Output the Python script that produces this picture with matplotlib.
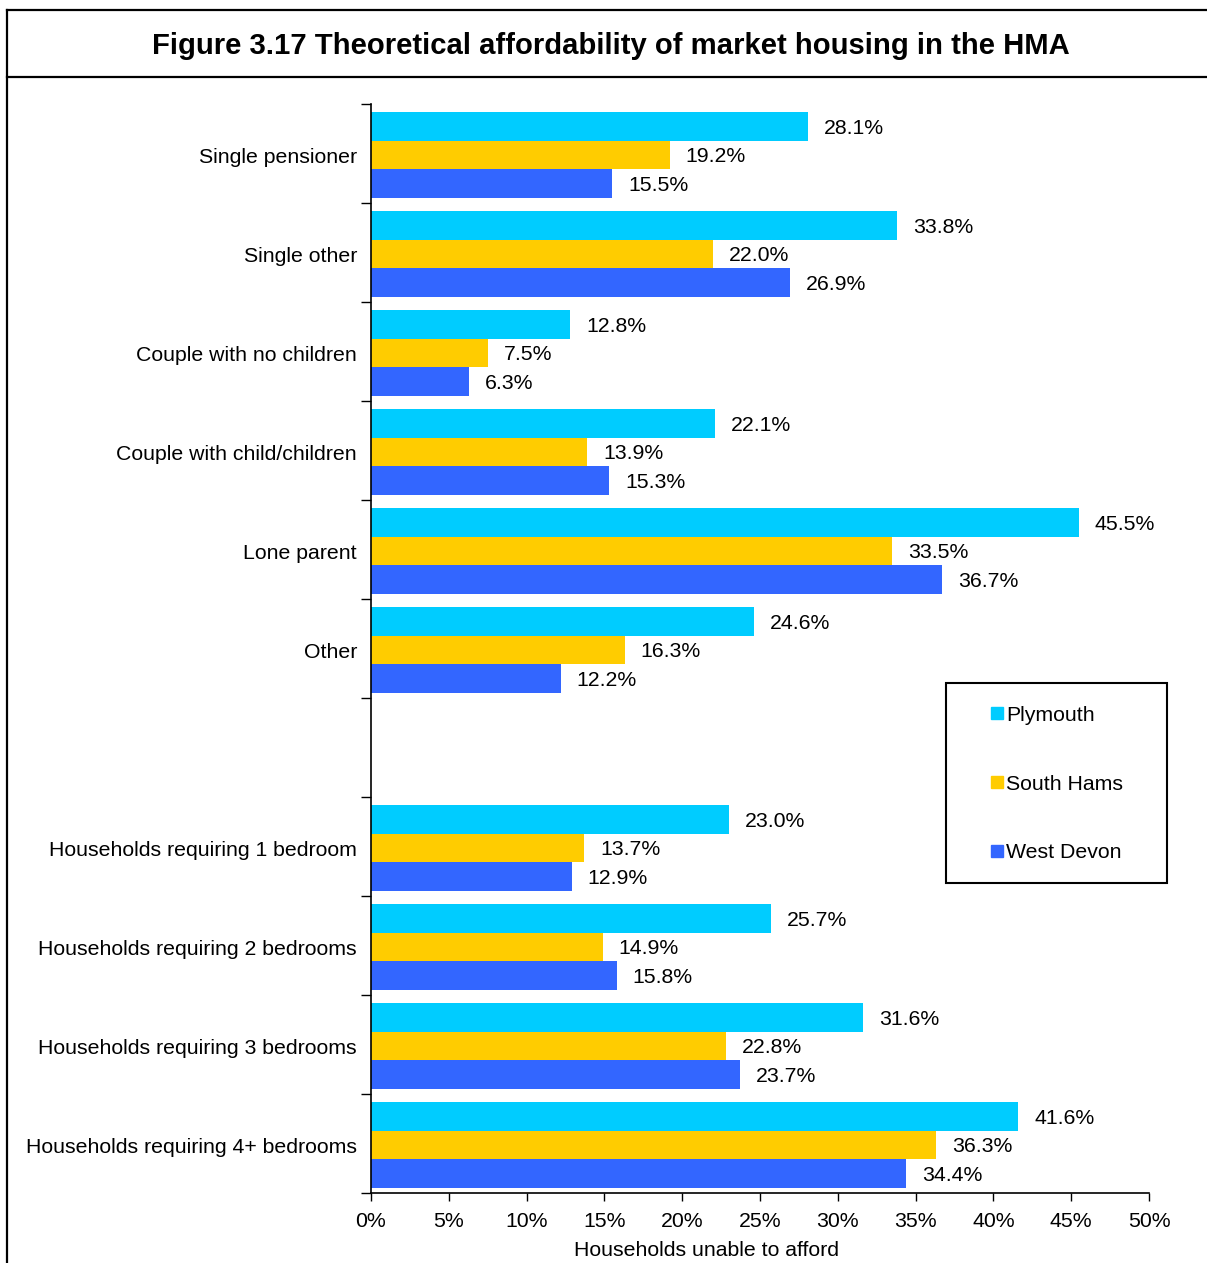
import matplotlib.pyplot as plt
import numpy as np
from matplotlib.patches import Rectangle, Patch
from matplotlib.lines import Line2D

plt.rcParams['font.family'] = ['Liberation Sans', 'DejaVu Sans']

categories = ['Single pensioner', 'Single other', 'Couple with no children',
              'Couple with child/children', 'Lone parent', 'Other', '',
              'Households requiring 1 bedroom', 'Households requiring 2 bedrooms',
              'Households requiring 3 bedrooms', 'Households requiring 4+ bedrooms']
plymouth = [28.1, 33.8, 12.8, 22.1, 45.5, 24.6, None, 23.0, 25.7, 31.6, 41.6]
south_hams = [19.2, 22.0, 7.5, 13.9, 33.5, 16.3, None, 13.7, 14.9, 22.8, 36.3]
west_devon = [15.5, 26.9, 6.3, 15.3, 36.7, 12.2, None, 12.9, 15.8, 23.7, 34.4]
series = [('Plymouth', plymouth, '#00CCFF'),
          ('South Hams', south_hams, '#FFCC00'),
          ('West Devon', west_devon, '#3366FF')]

fig = plt.figure(figsize=(12.07, 12.63), dpi=100)
ax = fig.add_axes([371/1207, 1 - 1193/1263, 778/1207, 1089/1263])

h = 0.29
fs = 15.3
for k, (name, vals, col) in enumerate(series):
    for i, v in enumerate(vals):
        if v is None:
            continue
        y = i + (k - 1) * h + 0.015
        ax.barh(y, v, height=h, color=col)
        ax.annotate(f'{v:.1f}%', (v, y), xytext=(16, -2), textcoords='offset pixels',
                    va='center', ha='left', fontsize=fs)

ax.set_xlim(0, 50)
ax.set_ylim(10.5, -0.5)
ax.set_xticks(np.arange(0, 51, 5))
ax.set_xticklabels([f'{t}%' for t in range(0, 51, 5)], fontsize=fs)
ax.set_yticks(np.arange(-0.5, 11, 1))
ax.set_yticklabels([])
ax.set_yticks(np.arange(len(categories)) + 0.02, minor=True)
ax.set_yticklabels(categories, minor=True, fontsize=fs)
ax.tick_params(axis='y', which='major', direction='out', length=7, width=1)
ax.tick_params(axis='y', which='minor', length=0, pad=10)
ax.tick_params(axis='x', direction='out', length=6, width=1, pad=8)
for s in ['top', 'right']:
    ax.spines[s].set_visible(False)
for s in ['left', 'bottom']:
    ax.spines[s].set_linewidth(1.2)

fig.text(706/1207, 1 - 1251/1263, 'Households unable to afford', ha='center', va='center',
         fontsize=fs)

# legend box
fig.patches.append(Rectangle((946/1207, 1 - 883/1263), 221/1207, 200/1263,
                             transform=fig.transFigure, fill=False, lw=1.5, ec='black'))
handles = [Patch(color=c, label=n) for n, _, c in series]
fig.legend(handles=handles, loc='center', bbox_to_anchor=(1057/1207, 1 - 784/1263),
           frameon=False, fontsize=fs, handlelength=0.55, handleheight=0.55,
           handletextpad=0.15, labelspacing=2.35)

# title box and outer frame
fig.add_artist(Line2D([7/1207, 7/1207], [0, 1 - 10/1263], transform=fig.transFigure,
                      color='black', lw=1.6))
fig.add_artist(Line2D([7/1207, 1], [1 - 10/1263, 1 - 10/1263], transform=fig.transFigure,
                      color='black', lw=1.6))
fig.add_artist(Line2D([7/1207, 1], [1 - 77/1263, 1 - 77/1263], transform=fig.transFigure,
                      color='black', lw=1.6))
fig.text(611/1207, 1 - 46/1263, 'Figure 3.17 Theoretical affordability of market housing in the HMA',
         ha='center', va='center', fontsize=21.1, fontweight='bold')

fig.savefig('out.png', dpi=100)
